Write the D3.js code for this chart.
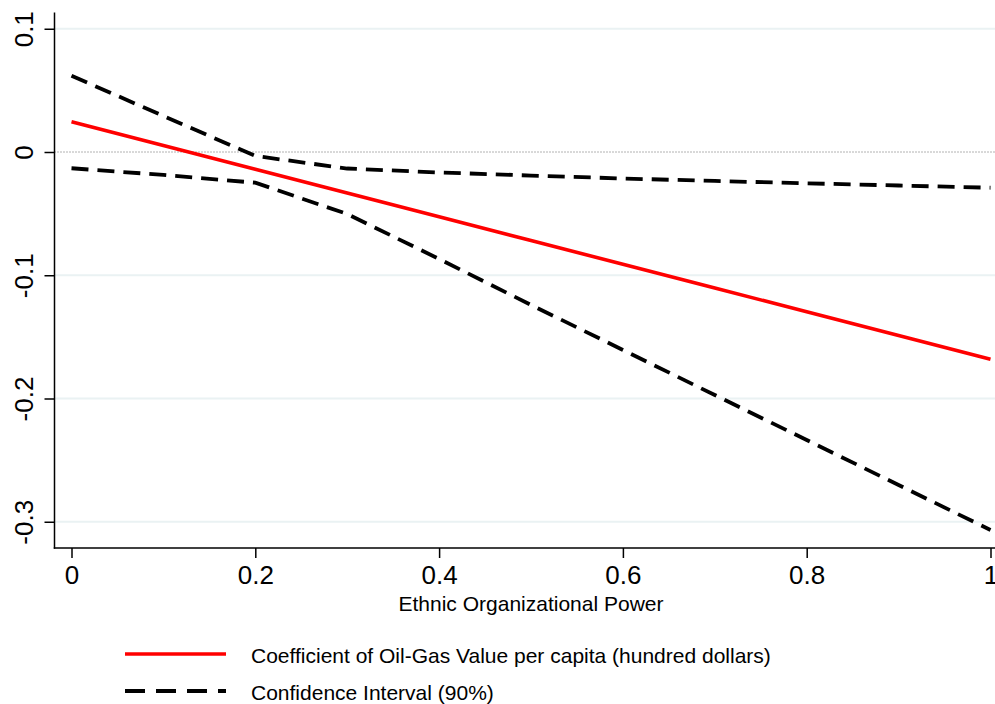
<!DOCTYPE html>
<html><head><meta charset="utf-8">
<script src="https://cdn.jsdelivr.net/npm/d3@7"></script>
<style>body{margin:0;background:#fff}svg{display:block}text{font-family:"Liberation Sans",Arial,Helvetica,sans-serif}</style>
</head><body>
<script>
const xs = [0,0.1,0.2,0.3,0.4,0.5,0.6,0.7,0.8,0.9,1.0];
const coef = [0.0246,0.0053,-0.0140,-0.0332,-0.0525,-0.0718,-0.0911,-0.1104,-0.1296,-0.1489,-0.1682];
const upper = [0.0619,0.0292,-0.0032,-0.0134,-0.0166,-0.0191,-0.0215,-0.0235,-0.0254,-0.0272,-0.0290];
const lower = [-0.0132,-0.0186,-0.0249,-0.0503,-0.0868,-0.1241,-0.1606,-0.1972,-0.2337,-0.2702,-0.3067];
const xTicks = [0,0.2,0.4,0.6,0.8,1];
const xTickLabels = ["0","0.2","0.4","0.6","0.8","1"];
const yTicks = [0.1,0,-0.1,-0.2,-0.3];
const yTickLabels = ["0.1","0","-0.1","-0.2","-0.3"];
const legendLabels = ["Coefficient of Oil-Gas Value per capita (hundred dollars)","Confidence Interval (90%)"];
const xTitle = "Ethnic Organizational Power";

const W=995,H=704;
const svg=d3.select("body").append("svg").attr("width",W).attr("height",H);
const L=54.5,R=995,T=12.5,B=548;
const x=d3.scaleLinear().domain([0,1]).range([71.5,990.5]);
const y=d3.scaleLinear().domain([0,-0.1]).range([152,275.25]);

// grid
svg.append("g").selectAll("line").data(yTicks.filter(d=>d!==0)).join("line")
  .attr("x1",L).attr("x2",R).attr("y1",d=>y(d)).attr("y2",d=>y(d))
  .attr("stroke","#eaf2f3").attr("stroke-width",2);
// zero reference
svg.append("line").attr("x1",L).attr("x2",R).attr("y1",y(0)).attr("y2",y(0))
  .attr("stroke","#666").attr("stroke-width",1).attr("stroke-dasharray","1,2");

const line=d3.line().x((d,i)=>x(xs[i])).y(d=>y(d));
svg.append("path").datum(upper).attr("d",line).attr("fill","none").attr("stroke","#000").attr("stroke-width",3.8).attr("stroke-dasharray","17,9");
svg.append("path").datum(lower).attr("d",line).attr("fill","none").attr("stroke","#000").attr("stroke-width",3.8).attr("stroke-dasharray","17,9");
svg.append("path").datum(coef).attr("d",line).attr("fill","none").attr("stroke","#ff0000").attr("stroke-width",3.6);

// y axis
const ya=svg.append("g").attr("transform",`translate(${L},0)`)
  .call(d3.axisLeft(y).tickValues(yTicks).tickSize(10).tickFormat((d,i)=>yTickLabels[i]));
ya.select(".domain").remove();
ya.selectAll(".tick line").attr("stroke","#000").attr("stroke-width",1.5);
ya.selectAll(".tick text").attr("font-size",26).attr("fill","#000")
  .attr("text-anchor","middle").attr("x",null).attr("dy",null)
  .attr("transform","translate(-21.5,0) rotate(-90)");
svg.append("line").attr("x1",L).attr("x2",L).attr("y1",T).attr("y2",B+0.75).attr("stroke","#000").attr("stroke-width",1.5);

// x axis
const xa=svg.append("g").attr("transform",`translate(0,${B})`)
  .call(d3.axisBottom(x).tickValues(xTicks).tickSize(10).tickFormat((d,i)=>xTickLabels[i]));
xa.select(".domain").remove();
xa.selectAll(".tick line").attr("stroke","#000").attr("stroke-width",1.5);
xa.selectAll(".tick text").attr("font-size",26).attr("fill","#000").attr("y",36).attr("dy",null);
svg.append("line").attr("x1",L-0.75).attr("x2",R).attr("y1",B).attr("y2",B).attr("stroke","#000").attr("stroke-width",1.5);

svg.append("text").attr("x",531).attr("y",611).attr("text-anchor","middle").attr("font-size",21).attr("fill","#000").text(xTitle);

// legend
const lg=svg.append("g");
lg.append("line").attr("x1",125).attr("x2",226).attr("y1",654).attr("y2",654).attr("stroke","#ff0000").attr("stroke-width",3.6);
lg.append("line").attr("x1",125).attr("x2",226).attr("y1",691).attr("y2",691).attr("stroke","#000").attr("stroke-width",3.8).attr("stroke-dasharray","20,11");
lg.selectAll("text").data(legendLabels).join("text")
  .attr("x",251).attr("y",(d,i)=>663+i*37).attr("font-size",21).attr("fill","#000").text(d=>d);
</script>
</body></html>
